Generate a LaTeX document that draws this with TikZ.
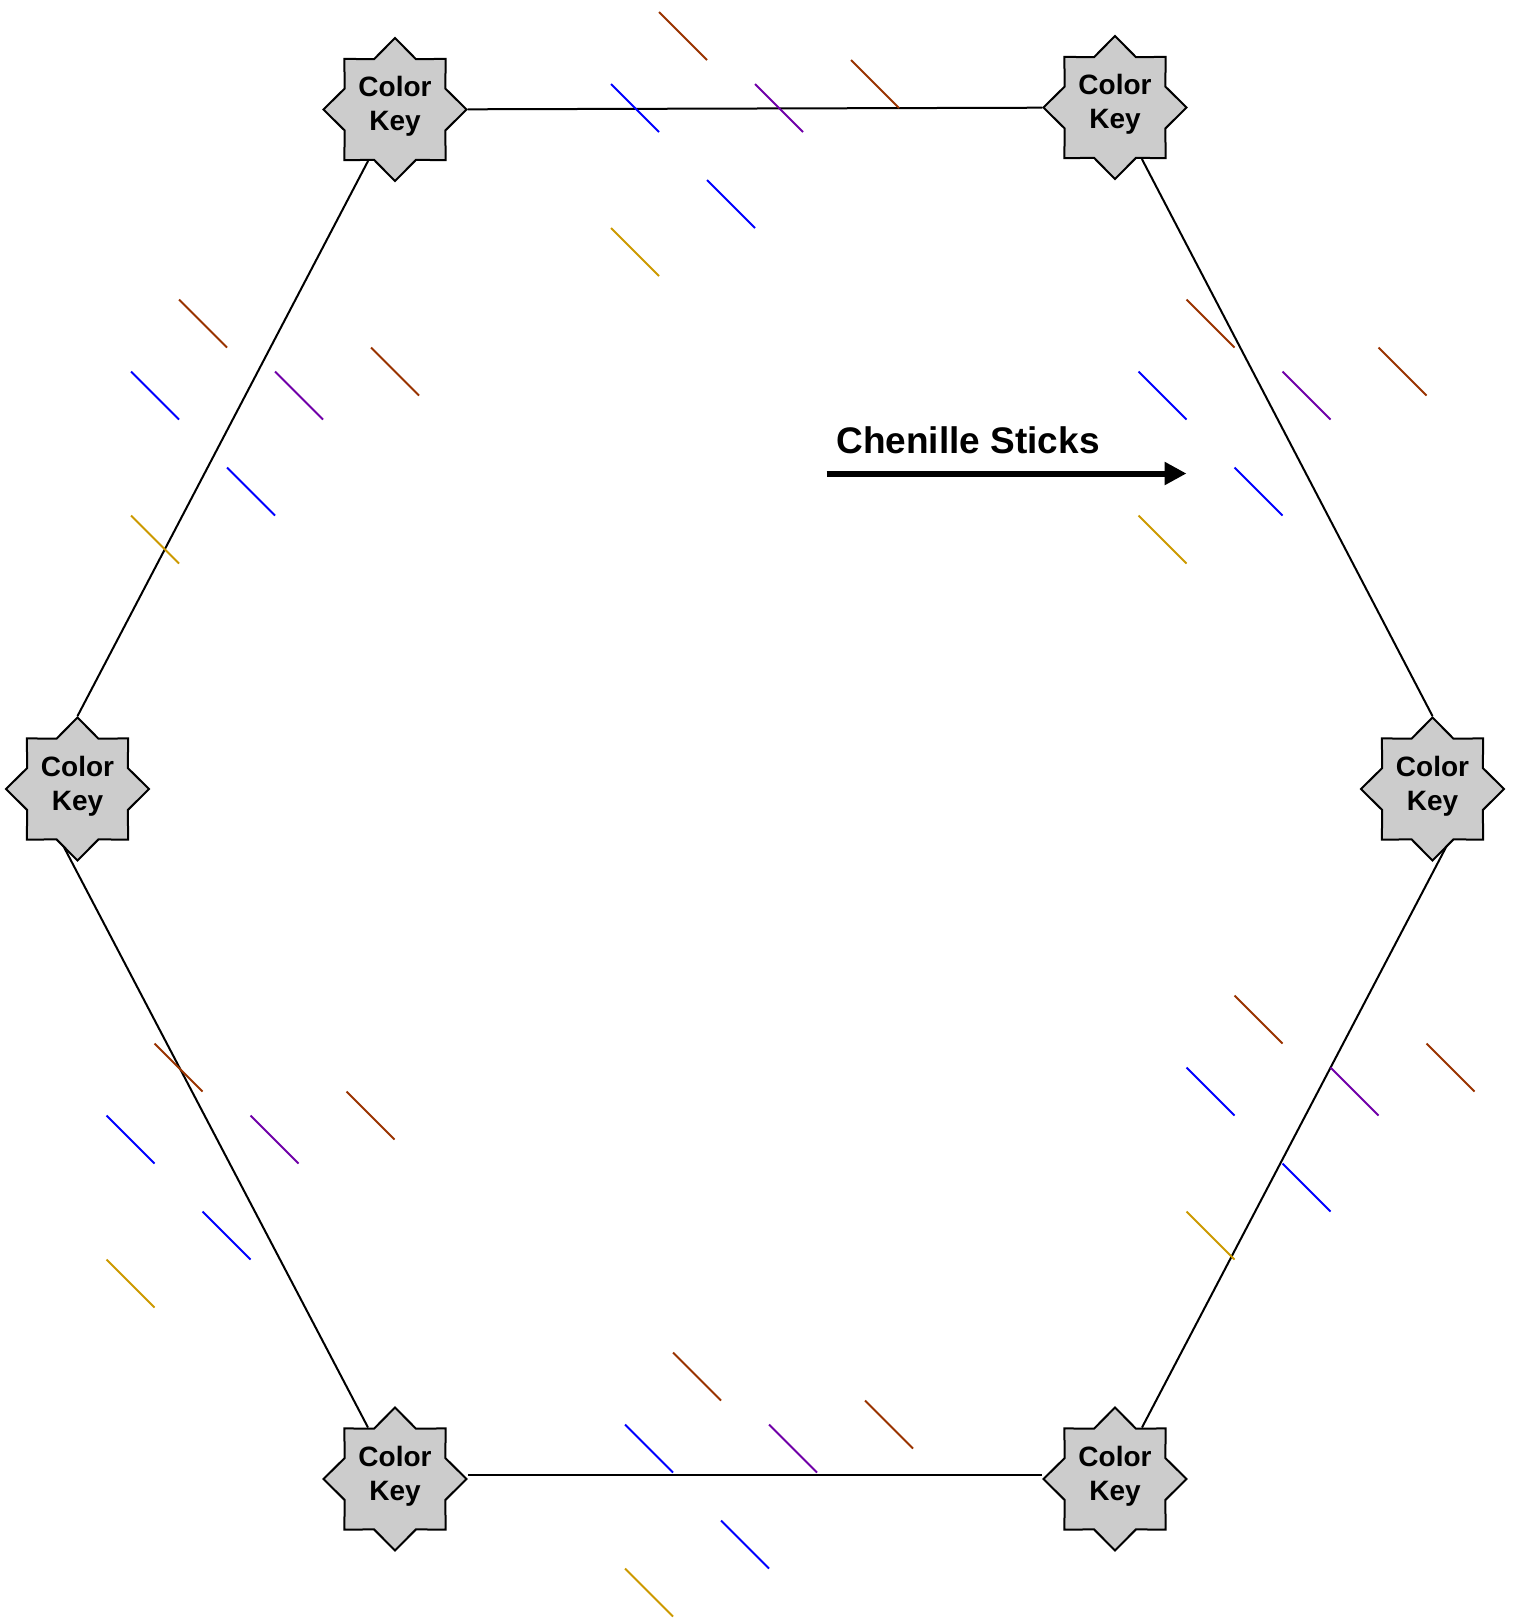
\documentclass[tikz,border=0pt]{standalone}
\usepackage{fontspec}
\setmainfont{Liberation Sans}
\usetikzlibrary{arrows.meta, shapes.geometric, backgrounds}
\definecolor{stBrown}{RGB}{153,51,0}
\definecolor{stBlue}{RGB}{0,0,255}
\definecolor{stPurple}{RGB}{112,0,168}
\definecolor{stGold}{RGB}{204,153,0}
\definecolor{keyGray}{RGB}{204,204,204}

\begin{document}
\begin{tikzpicture}[
    x=0.5pt, y=-0.5pt,
    colorkey/.style = {star, star points=8, star point ratio=1.31,
                       draw=black, line width=1pt, fill=keyGray,
                       minimum size=71.5pt, inner sep=0pt, align=center,
                       text depth=6pt,
                       font=\fontsize{14}{17}\selectfont\bfseries},
    rim/.style      = {draw=black, line width=1pt},
    stick/.style    = {draw=#1, line width=1pt},
    tagtext/.style  = {font=\fontsize{18.5}{22}\selectfont\bfseries, inner sep=0pt},
    flow/.style     = {-{Triangle[length=11pt,width=11pt]}, line width=3pt}
]
\useasboundingbox (0,0) rectangle (1514,1619);

% Color key stars at the six corners
\node[colorkey] (TL) at (395,109.5)  {Color\\Key};
\node[colorkey] (TR) at (1115,107.5) {Color\\Key};
\node[colorkey] (L)  at (77.5,789)   {Color\\Key};
\node[colorkey] (R)  at (1432.5,789) {Color\\Key};
\node[colorkey] (BL) at (395,1479)   {Color\\Key};
\node[colorkey] (BR) at (1115,1479)  {Color\\Key};

% Hexagon rim, kept behind the stars
\begin{scope}[on background layer]
  \draw[rim] (TL) -- (TR);
  \draw[rim] ([yshift=2pt]BL.east) -- ([yshift=2pt]BR.west);
  \draw[rim] (TL) -- (L.outer point 1);
  \draw[rim] (TR) -- (R.outer point 1);
  \draw[rim] ([xshift=-22pt]L.center) -- (BL);
  \draw[rim] ([xshift=22pt]R.center) -- (BR);
\end{scope}

% Stick clusters (base = upper left of the blue/gold column)
\foreach \bx/\by in {611/12, 131/299.5, 1138.5/299.5,
                     106.5/1043.5, 1186.5/995.5, 625/1352.5}{
  \draw[stick=stBrown]  (\bx+48,\by)     -- ++(48,48);
  \draw[stick=stBlue]   (\bx,\by+72)     -- ++(48,48);
  \draw[stick=stPurple] (\bx+144,\by+72) -- ++(48,48);
  \draw[stick=stBrown]  (\bx+240,\by+48) -- ++(48,48);
  \draw[stick=stBlue]   (\bx+96,\by+168) -- ++(48,48);
  \draw[stick=stGold]   (\bx,\by+216)    -- ++(48,48);
}

% Label with its arrow
\node[tagtext, anchor=base] (chen) at (968,453) {Chenille Sticks};
\coordinate (arrS) at (826.5,473.5);
\coordinate (arrE) at (1186.5,473.5);
\draw[flow] (arrS) -- (arrE);

\end{tikzpicture}
\end{document}
